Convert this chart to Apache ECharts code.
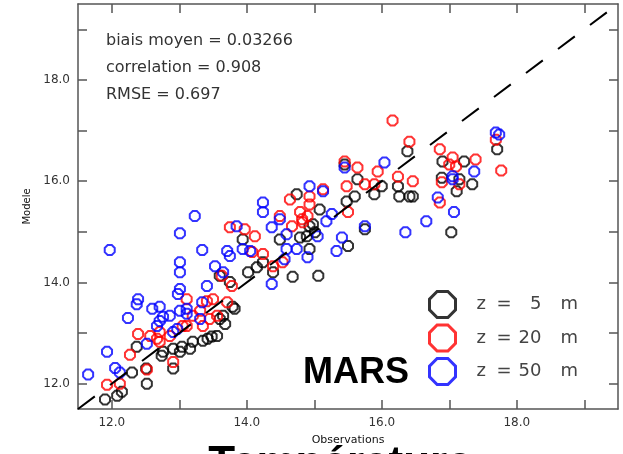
<!DOCTYPE html>
<html>
<head>
<meta charset="utf-8">
<script src="https://cdn.jsdelivr.net/npm/echarts@6/dist/echarts.min.js"></script>
<style>html,body{margin:0;padding:0;background:#fff}#c{width:623px;height:454px}</style>
</head>
<body>
<div id="c"></div>
<script>
// ---- data (observation, model) pairs ----
const depths = [5, 20, 50];
const seriesColors = ['#000000', '#ff0000', '#0000ff'];
const z5 = [[11.90,11.69],[12.08,11.76],[12.15,11.84],[12.52,12.00],[12.30,12.22],[12.51,12.30],[12.37,12.73],[12.74,12.55],[12.91,12.30],[13.01,12.63],[13.04,12.73],[13.20,12.83],[13.35,12.85],[13.48,12.93],[13.56,12.94],[13.68,13.18],[13.79,13.52],[13.65,13.34],[13.60,13.28],[12.76,12.63],[12.91,12.69],[13.16,12.69],[13.82,13.48],[13.42,12.89],[14.02,14.20],[14.15,14.30],[14.24,14.40],[14.39,14.20],[14.68,14.11],[15.06,14.13],[14.93,15.11],[14.49,14.85],[14.74,15.74],[14.79,14.89],[15.01,14.99],[13.94,14.85],[13.60,14.13],[13.75,14.01],[15.45,16.33],[15.64,16.04],[15.60,15.70],[15.48,15.60],[15.89,15.74],[16.00,15.90],[16.24,15.90],[16.26,15.70],[16.41,15.70],[16.46,15.70],[15.08,15.44],[14.98,15.15],[14.93,14.66],[14.89,14.91],[15.50,14.72],[16.38,16.59],[17.71,16.63],[16.90,16.39],[17.22,16.39],[16.89,16.07],[17.34,15.94],[17.11,15.80],[17.03,14.99],[17.15,16.04],[15.75,15.05]];
const z20 = [[11.93,11.98],[12.12,12.00],[12.27,12.57],[12.52,12.28],[12.91,12.43],[12.39,12.98],[12.57,12.94],[12.67,12.89],[12.86,12.94],[13.11,13.14],[13.35,13.14],[13.45,13.28],[13.11,13.67],[13.41,13.63],[13.50,13.67],[13.71,13.61],[13.63,14.13],[13.78,13.93],[13.75,15.09],[13.97,15.05],[14.12,14.91],[14.08,14.60],[14.24,14.56],[13.31,13.44],[13.20,13.34],[13.56,13.34],[13.05,13.14],[12.71,12.83],[12.71,13.02],[14.49,15.31],[14.64,15.64],[14.79,15.39],[14.93,15.70],[14.93,15.54],[14.67,15.11],[14.83,15.19],[14.90,15.31],[14.53,14.40],[14.39,14.32],[15.45,16.39],[15.64,16.27],[15.94,16.19],[15.48,15.90],[15.75,15.94],[15.89,15.94],[16.24,16.09],[16.46,16.00],[15.50,15.39],[15.13,15.84],[14.82,15.25],[16.41,16.78],[16.16,17.20],[16.86,16.63],[17.05,16.47],[17.10,16.29],[17.00,16.33],[17.39,16.43],[17.77,16.21],[17.69,16.82],[16.89,15.98],[17.15,15.94],[16.86,15.58]];
const z50 = [[11.65,12.18],[11.93,12.63],[12.05,12.31],[12.12,12.22],[12.24,13.30],[12.39,13.67],[12.37,13.57],[12.52,12.79],[12.60,13.48],[12.71,13.52],[12.76,13.32],[12.67,13.14],[12.91,13.02],[11.97,14.64],[13.01,14.97],[13.01,14.40],[13.01,14.20],[13.01,13.87],[13.34,14.64],[13.71,14.62],[13.75,14.52],[13.53,14.32],[13.65,14.20],[13.41,13.93],[13.31,13.28],[13.34,13.61],[12.98,13.77],[12.86,13.34],[13.01,13.44],[13.11,13.38],[13.11,13.48],[12.97,13.08],[12.71,13.24],[14.24,15.58],[14.24,15.39],[13.85,15.11],[14.37,15.09],[14.49,15.25],[13.94,14.66],[14.05,14.62],[14.59,14.66],[14.74,14.66],[14.90,14.50],[14.37,13.97],[14.56,14.46],[14.93,15.90],[14.59,14.95],[13.23,15.31],[15.45,16.27],[16.04,16.37],[15.13,15.80],[15.26,15.35],[15.18,15.21],[15.05,14.91],[15.41,14.89],[15.33,14.62],[15.75,15.11],[16.35,14.99],[16.66,15.21],[17.69,16.96],[17.74,16.92],[17.37,16.19],[17.05,16.04],[16.83,15.68],[17.07,15.39],[17.05,16.10]];
const axisRange = [11.5, 19.5];
const tickValues = [12, 13, 14, 15, 16, 17, 18, 19];
const labelValues = [12, 14, 16, 18];
const statsLines = ['biais moyen = 0.03266', 'correlation = 0.908', 'RMSE = 0.697'];
const campaign = 'MARS';
const variableName = 'Température';
const xTitle = 'Observations';
const yTitle = 'Modele';

const octagon = 'path://M29.3,0 L70.7,0 L100,29.3 L100,70.7 L70.7,100 L29.3,100 L0,70.7 L0,29.3 Z';
const groups = [z5, z20, z50];
const names = depths.map(d => 'z = ' + d + ' m');

const axisColor = '#555';
function makeAxis(pos, showLabels, name) {
  const isX = pos === 'bottom' || pos === 'top';
  return {
    type: 'value', position: pos, min: axisRange[0], max: axisRange[1], interval: 0.5,
    name: name || '', nameLocation: 'middle',
    nameGap: isX ? 26 : 44, nameRotate: isX ? 0 : 90,
    nameTextStyle: { fontFamily: 'DejaVu Sans', fontSize: isX ? 11 : 10, color: '#111' },
    axisLine: { show: true, onZero: false, lineStyle: { color: axisColor, width: 1.5 } },
    axisTick: { show: true, inside: true, length: 9, customValues: tickValues, lineStyle: { color: axisColor, width: 1.5 } },
    axisLabel: { show: showLabels, customValues: labelValues, margin: 8, fontFamily: 'DejaVu Sans', fontSize: 12, color: '#333',
      formatter: v => Number(v).toFixed(1) },
    splitLine: { show: false }
  };
}

const series = groups.map((g, i) => ({
  type: 'scatter', name: names[i], data: g,
  symbol: octagon, symbolSize: 10,
  itemStyle: { color: 'transparent', borderColor: seriesColors[i], borderWidth: 2 },
  emphasis: { disabled: true }, silent: true
}));
series.push({
  type: 'line', data: [[axisRange[0], axisRange[0]], [axisRange[1], axisRange[1]]],
  symbol: 'none', silent: true,
  lineStyle: { color: '#000', width: 2, type: [21, 19] }
});

const richBase = { fontFamily: 'DejaVu Sans', fontSize: 18, color: '#444', lineHeight: 20 };
const chart = echarts.init(document.getElementById('c'), null, { renderer: 'canvas' });
chart.setOption({
  animation: false,
  backgroundColor: '#fff',
  grid: { left: 78, right: 5, top: 4, bottom: 45 },
  xAxis: [makeAxis('bottom', true, xTitle), makeAxis('top', false)],
  yAxis: [makeAxis('left', true, yTitle), makeAxis('right', false)],
  legend: {
    orient: 'vertical', left: 428, top: 290, padding: 0, itemWidth: 26, itemHeight: 26, itemGap: 4.5,
    selectedMode: false,
    data: names.map((n, i) => ({ name: n, icon: octagon,
      itemStyle: { color: 'transparent', borderColor: seriesColors[i], borderWidth: 3 } })),
    formatter: function (name) {
      const d = depths[names.indexOf(name)];
      const num = d < 10 ? '  ' + d : '' + d;
      return '{a|z}{b|=}{c|' + num + '}{d|m}';
    },
    textStyle: {
      fontFamily: 'DejaVu Sans', fontSize: 18, color: '#444', lineHeight: 20,
      rich: {
        a: Object.assign({}, richBase, { width: 20, padding: [0, 0, 0, 16] }),
        b: Object.assign({}, richBase, { width: 22 }),
        c: Object.assign({}, richBase, { width: 42 }),
        d: Object.assign({}, richBase)
      }
    }
  },
  graphic: [
    ...statsLines.map((t, i) => ({
      type: 'text', left: 106, top: 33 + i * 27, silent: true,
      style: { text: t, fontFamily: 'DejaVu Sans', fontSize: 16, fill: '#333' }
    })),
    { type: 'text', x: 303, y: 373, silent: true,
      style: { text: campaign, font: 'bold 36px "Liberation Sans"', fill: '#000', verticalAlign: 'middle' } },
    { type: 'text', x: 340, y: 443, silent: true,
      style: { text: variableName, font: 'bold 44px "Liberation Sans"', fill: '#000', align: 'center', verticalAlign: 'top' } }
  ],
  series: series
});
</script>
</body>
</html>
